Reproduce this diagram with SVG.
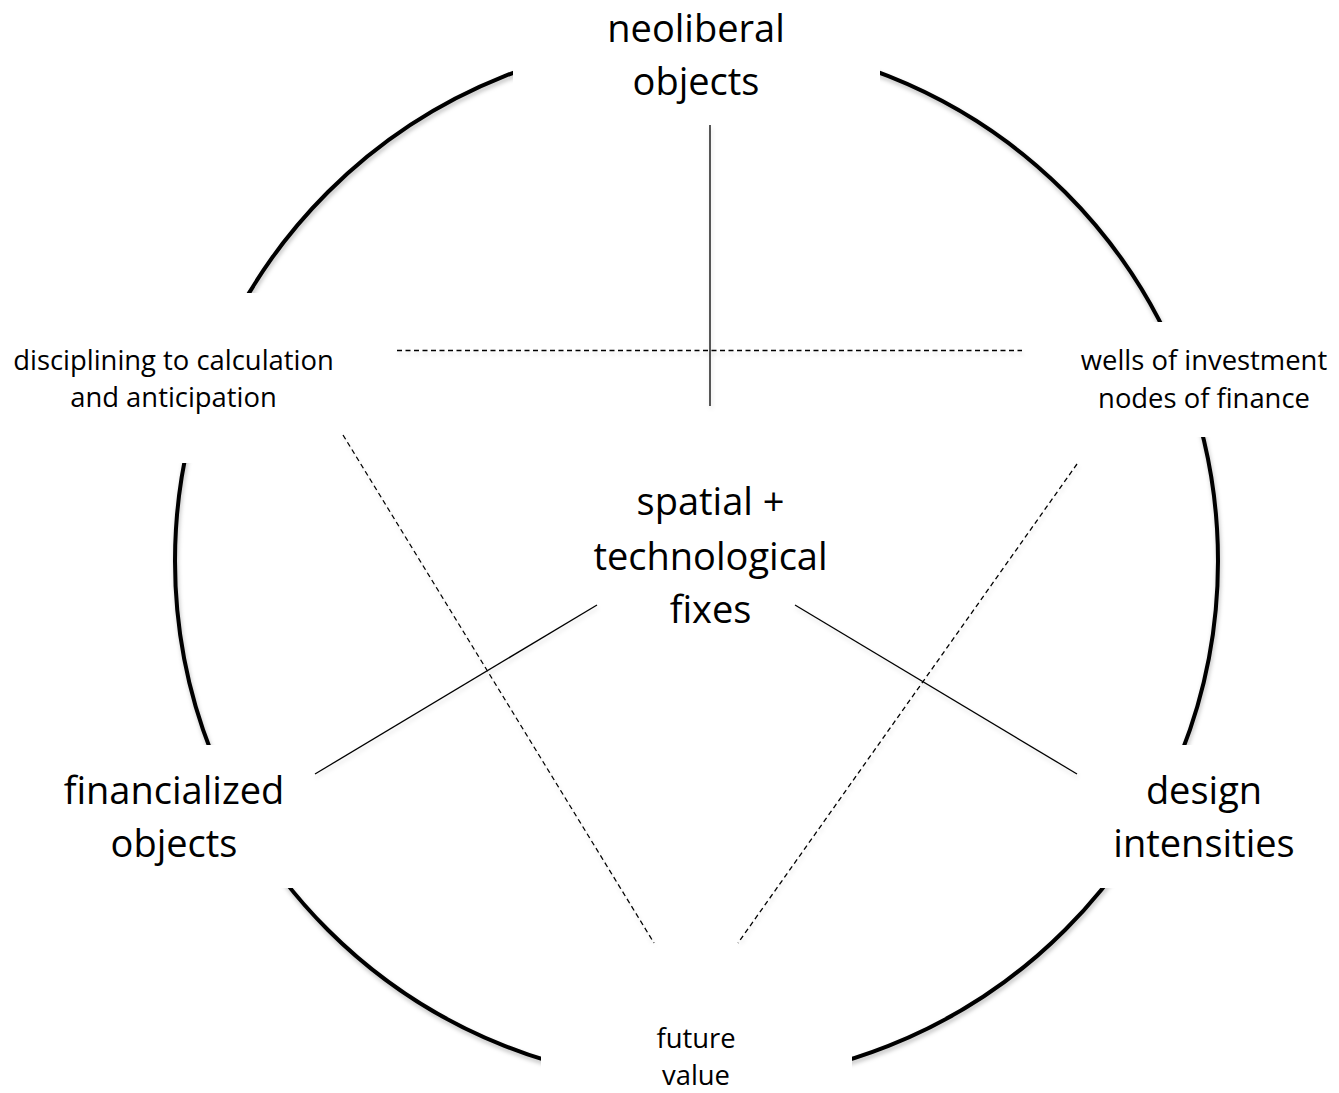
<svg xmlns="http://www.w3.org/2000/svg" width="1339" height="1093" viewBox="0 0 1339 1093">
<defs>
<filter id="sh" x="-10%" y="-10%" width="120%" height="120%">
<feDropShadow dx="1" dy="3" stdDeviation="2" flood-color="#000" flood-opacity="0.25"/>
</filter>
<filter id="shl" x="-10%" y="-10%" width="120%" height="120%">
<feDropShadow dx="1" dy="3" stdDeviation="2" flood-color="#000" flood-opacity="0.15"/>
</filter>
</defs>
<style>
.ring{fill:none;stroke:#000;stroke-width:4}
.box{fill:#fff;stroke:none}
.big{font-family:"Open Sans","Liberation Sans",sans-serif;font-size:38px;fill:#000;text-anchor:middle}
.small{font-family:"Open Sans","Liberation Sans",sans-serif;font-size:27.4px;fill:#000;text-anchor:middle}
.solid{stroke:#000;stroke-width:1.3;fill:none}
.dash{stroke:#000;stroke-width:1.3;fill:none;stroke-dasharray:5 3.5}
</style>
<rect width="1339" height="1093" fill="#fff"/>
<g id="ring">
<circle class="ring" cx="696.5" cy="561" r="521.5" filter="url(#sh)"/>
</g>
<g id="boxes">
<rect class="box" x="513" y="0" width="367" height="118"/>
<rect class="box" x="0" y="293" width="360" height="170"/>
<rect class="box" x="1040" y="322" width="299" height="115"/>
<rect class="box" x="0" y="745" width="300" height="143"/>
<rect class="box" x="1095" y="745" width="244" height="143"/>
<rect class="box" x="541" y="1010" width="311" height="83"/>
</g>
<g id="connectors" filter="url(#shl)">
<line class="solid" x1="710" y1="125" x2="710" y2="406"/>
<line class="dash" x1="397" y1="350.5" x2="1022" y2="350.5"/>
<line class="dash" x1="343" y1="435" x2="654" y2="943"/>
<line class="dash" x1="1077" y1="464" x2="738" y2="943"/>
<line class="solid" x1="597" y1="605" x2="315" y2="774"/>
<line class="solid" x1="795" y1="605" x2="1077" y2="774"/>
</g>
<g id="node-neoliberal">
<text class="big" x="696" y="42">neoliberal</text>
<text class="big" x="696" y="95">objects</text>
</g>
<g id="node-disciplining">
<text class="small" x="173.5" y="370">disciplining to calculation</text>
<text class="small" x="173.5" y="407">and anticipation</text>
</g>
<g id="node-wells">
<text class="small" x="1204" y="370">wells of investment</text>
<text class="small" x="1204" y="408">nodes of finance</text>
</g>
<g id="node-spatial">
<text class="big" x="710.5" y="515">spatial +</text>
<text class="big" x="710.5" y="570">technological</text>
<text class="big" x="710.5" y="623">fixes</text>
</g>
<g id="node-financialized">
<text class="big" x="174" y="804">financialized</text>
<text class="big" x="174" y="857">objects</text>
</g>
<g id="node-design">
<text class="big" x="1204" y="804">design</text>
<text class="big" x="1204" y="857">intensities</text>
</g>
<g id="node-future">
<text class="small" x="696" y="1048">future</text>
<text class="small" x="696" y="1085">value</text>
</g>
</svg>
